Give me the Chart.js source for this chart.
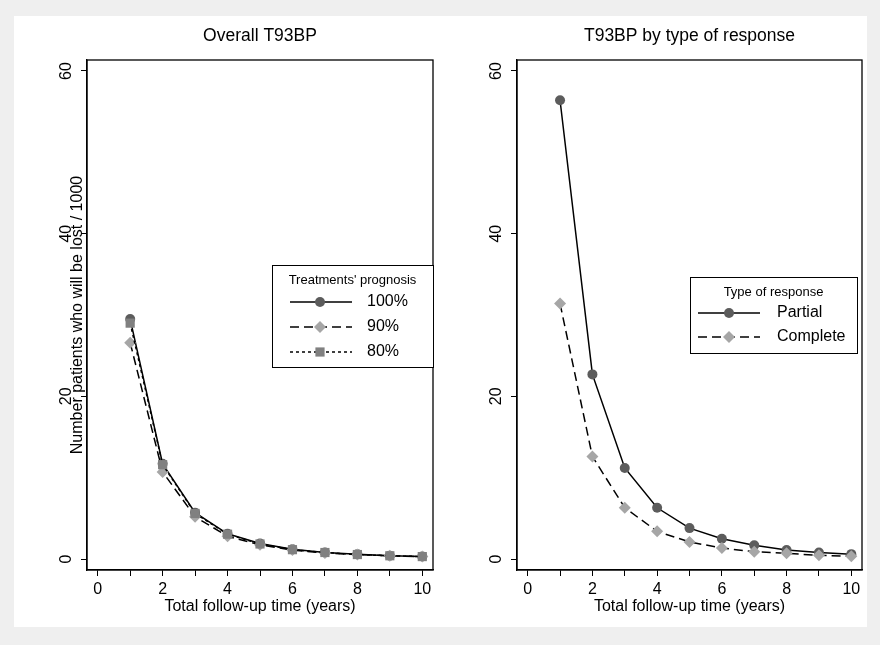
<!DOCTYPE html>
<html>
<head>
<meta charset="utf-8">
<title>T93BP</title>
<script src="https://cdn.jsdelivr.net/npm/chart.js@4.4.1/dist/chart.umd.min.js"></script>
<style>
    html, body { margin: 0; padding: 0; background: #efefef; }
    #page { position: relative; width: 880px; height: 645px; overflow: hidden; }
    #sheet { position: absolute; left: 14px; top: 16px; width: 853px; height: 611px; background: #fff; }
    .panel { position: absolute; top: 0; width: 440px; height: 645px; }
</style>
</head>
<body>
<div id="page">
    <div id="sheet"></div>
    <div class="panel" style="left:0"><canvas id="overallChart" width="440" height="645"></canvas></div>
    <div class="panel" style="left:440px"><canvas id="responseChart" width="440" height="645"></canvas></div>
</div>
<script>
// data
const years = [1, 2, 3, 4, 5, 6, 7, 8, 9, 10];
const overall100 = [29.5, 11.7, 5.7, 3.1, 1.9, 1.2, 0.8, 0.6, 0.4, 0.3];
const overall90 = [26.6, 10.7, 5.2, 2.8, 1.75, 1.1, 0.75, 0.55, 0.4, 0.3];
const overall80 = [29.0, 11.6, 5.6, 3.05, 1.85, 1.15, 0.8, 0.55, 0.4, 0.3];
const partial = [56.4, 22.7, 11.2, 6.3, 3.8, 2.5, 1.7, 1.1, 0.8, 0.6];
const complete = [31.4, 12.6, 6.3, 3.4, 2.1, 1.35, 0.9, 0.7, 0.45, 0.35];

const xTicks = [0, 1, 2, 3, 4, 5, 6, 7, 8, 9, 10];
const yTicks = [0, 20, 40, 60];

const FONT = '"Liberation Sans", Arial, sans-serif';
const DARK = '#5c5c5c';
const LIGHT = '#a6a6a6';
const MID = '#808080';

function toPoints(values) {
    return years.map((x, i) => ({ x: x, y: values[i] }));
}

function series(label, values, style) {
    return {
        label: label,
        data: toPoints(values),
        borderColor: '#000',
        borderWidth: 1.5,
        borderDash: style.dash,
        tension: 0,
        fill: false,
        pointStyle: style.shape,
        pointRadius: style.radius,
        pointBackgroundColor: style.color,
        pointBorderWidth: 0,
        order: style.order
    };
}

function panelScales() {
    return {
        x: {
            type: 'linear',
            min: -0.33,
            max: 10.33,
            afterBuildTicks: s => { s.ticks = xTicks.map(v => ({ value: v })); },
            afterFit: s => { s.height = 46; },
            grid: { drawOnChartArea: false, drawTicks: true, tickLength: 6, color: '#000', lineWidth: 1 },
            border: { display: true, color: '#000', width: 1.3 },
            ticks: {
                color: '#000',
                font: { family: FONT, size: 16 },
                padding: 4,
                maxRotation: 0,
                autoSkip: false,
                callback: v => (v % 2 === 0 ? String(v) : '')
            },
            title: {
                display: true,
                text: 'Total follow-up time (years)',
                color: '#000',
                font: { family: FONT, size: 16 },
                padding: 0
            }
        },
        y: {
            type: 'linear',
            min: -1.35,
            max: 61.35,
            afterBuildTicks: s => { s.ticks = yTicks.map(v => ({ value: v })); },
            afterFit: s => { s.width = 40; },
            grid: { drawOnChartArea: false, drawTicks: true, tickLength: 6, color: '#000', lineWidth: 1 },
            border: { display: true, color: '#000', width: 1.3 },
            ticks: { display: false }
        }
    };
}

function drawMarker(ctx, shape, x, y, r, color) {
    ctx.fillStyle = color;
    ctx.beginPath();
    if (shape === 'circle') {
        ctx.arc(x, y, r, 0, Math.PI * 2);
    } else if (shape === 'rectRot') {
        ctx.moveTo(x, y - r);
        ctx.lineTo(x + r, y);
        ctx.lineTo(x, y + r);
        ctx.lineTo(x - r, y);
        ctx.closePath();
    } else {
        const h = r * Math.SQRT1_2;
        ctx.rect(x - h, y - h, 2 * h, 2 * h);
    }
    ctx.fill();
}

function drawLegend(ctx, area, lg) {
    const bx = area.left + lg.dx;
    const by = area.top + lg.dy;
    ctx.fillStyle = '#fff';
    ctx.fillRect(bx, by, lg.w, lg.h);
    ctx.strokeStyle = '#000';
    ctx.lineWidth = 1;
    ctx.setLineDash([]);
    ctx.strokeRect(bx + 0.5, by + 0.5, lg.w, lg.h);

    ctx.fillStyle = '#000';
    ctx.textAlign = 'center';
    ctx.textBaseline = 'middle';
    ctx.font = '13px ' + FONT;
    ctx.fillText(lg.title, bx + lg.w / 2, by + 15);

    lg.items.forEach((item, i) => {
        const y = by + lg.rows[i];
        ctx.strokeStyle = '#000';
        ctx.lineWidth = 1.5;
        ctx.setLineDash(item.dash);
        ctx.beginPath();
        ctx.moveTo(bx + lg.line0, y);
        ctx.lineTo(bx + lg.line1, y);
        ctx.stroke();
        ctx.setLineDash([]);
        drawMarker(ctx, item.shape, bx + lg.mark, y, item.radius, item.color);
        ctx.fillStyle = '#000';
        ctx.textAlign = 'left';
        ctx.font = '16px ' + FONT;
        ctx.fillText(item.label, bx + lg.text, y);
    });
}

// frame, title, rotated y labels and the in-plot legend
const panelDecor = {
    id: 'panelDecor',
    afterDraw(chart, args, opts) {
        const ctx = chart.ctx;
        const a = chart.chartArea;
        const yScale = chart.scales.y;
        ctx.save();

        ctx.strokeStyle = '#000';
        ctx.lineWidth = 1.3;
        ctx.setLineDash([]);
        ctx.strokeRect(a.left, a.top, a.right - a.left, a.bottom - a.top);

        ctx.fillStyle = '#000';
        ctx.textAlign = 'center';
        ctx.textBaseline = 'middle';
        ctx.font = '17.5px ' + FONT;
        ctx.fillText(opts.title, (a.left + a.right) / 2, opts.titleY);

        ctx.font = '16px ' + FONT;
        yTicks.forEach(v => {
            ctx.save();
            ctx.translate(a.left - 20, yScale.getPixelForValue(v));
            ctx.rotate(-Math.PI / 2);
            ctx.fillText(String(v), 0, 0);
            ctx.restore();
        });

        if (opts.yTitle) {
            ctx.save();
            ctx.translate(a.left - 9, (a.top + a.bottom) / 2);
            ctx.rotate(-Math.PI / 2);
            ctx.font = '16px ' + FONT;
            ctx.fillText(opts.yTitle, 0, 0);
            ctx.restore();
        }

        if (opts.legend) drawLegend(ctx, a, opts.legend);
        ctx.restore();
    }
};

const circleStyle = { shape: 'circle', radius: 5, color: DARK };
const diamondStyle = { shape: 'rectRot', radius: 6, color: LIGHT };
const squareStyle = { shape: 'rect', radius: 6.5, color: MID };

function makeChart(id, datasets, pad, decor) {
    return new Chart(document.getElementById(id), {
        type: 'line',
        data: { datasets: datasets },
        options: {
            responsive: false,
            animation: false,
            events: [],
            layout: { padding: pad },
            scales: panelScales(),
            plugins: {
                legend: { display: false },
                tooltip: { enabled: false },
                title: { display: false },
                panelDecor: decor
            }
        },
        plugins: [panelDecor]
    });
}

makeChart('overallChart', [
    series('100%', overall100, { dash: [], shape: 'circle', radius: 5, color: DARK, order: 2 }),
    series('90%', overall90, { dash: [9, 5], shape: 'rectRot', radius: 6, color: LIGHT, order: 1 }),
    series('80%', overall80, { dash: [3, 3], shape: 'rect', radius: 6.5, color: MID, order: 0 })
], { left: 47, top: 60, right: 7, bottom: 29 }, {
    title: 'Overall T93BP',
    titleY: 36,
    yTitle: 'Number patients who will be lost / 1000',
    legend: {
        title: "Treatments' prognosis",
        dx: 185, dy: 205, w: 161, h: 102,
        line0: 18, line1: 80, mark: 48, text: 95,
        rows: [37, 62, 87],
        items: [
            Object.assign({ label: '100%', dash: [] }, circleStyle),
            Object.assign({ label: '90%', dash: [9, 5] }, diamondStyle),
            Object.assign({ label: '80%', dash: [3, 3] }, squareStyle)
        ]
    }
});

makeChart('responseChart', [
    series('Partial', partial, { dash: [], shape: 'circle', radius: 5, color: DARK, order: 1 }),
    series('Complete', complete, { dash: [9, 5], shape: 'rectRot', radius: 6, color: LIGHT, order: 0 })
], { left: 37, top: 60, right: 18, bottom: 29 }, {
    title: 'T93BP by type of response',
    titleY: 36,
    legend: {
        title: 'Type of response',
        dx: 173, dy: 217, w: 167, h: 76,
        line0: 8, line1: 70, mark: 39, text: 87,
        rows: [36, 60],
        items: [
            Object.assign({ label: 'Partial', dash: [] }, circleStyle),
            Object.assign({ label: 'Complete', dash: [9, 5] }, diamondStyle)
        ]
    }
});
</script>
</body>
</html>
